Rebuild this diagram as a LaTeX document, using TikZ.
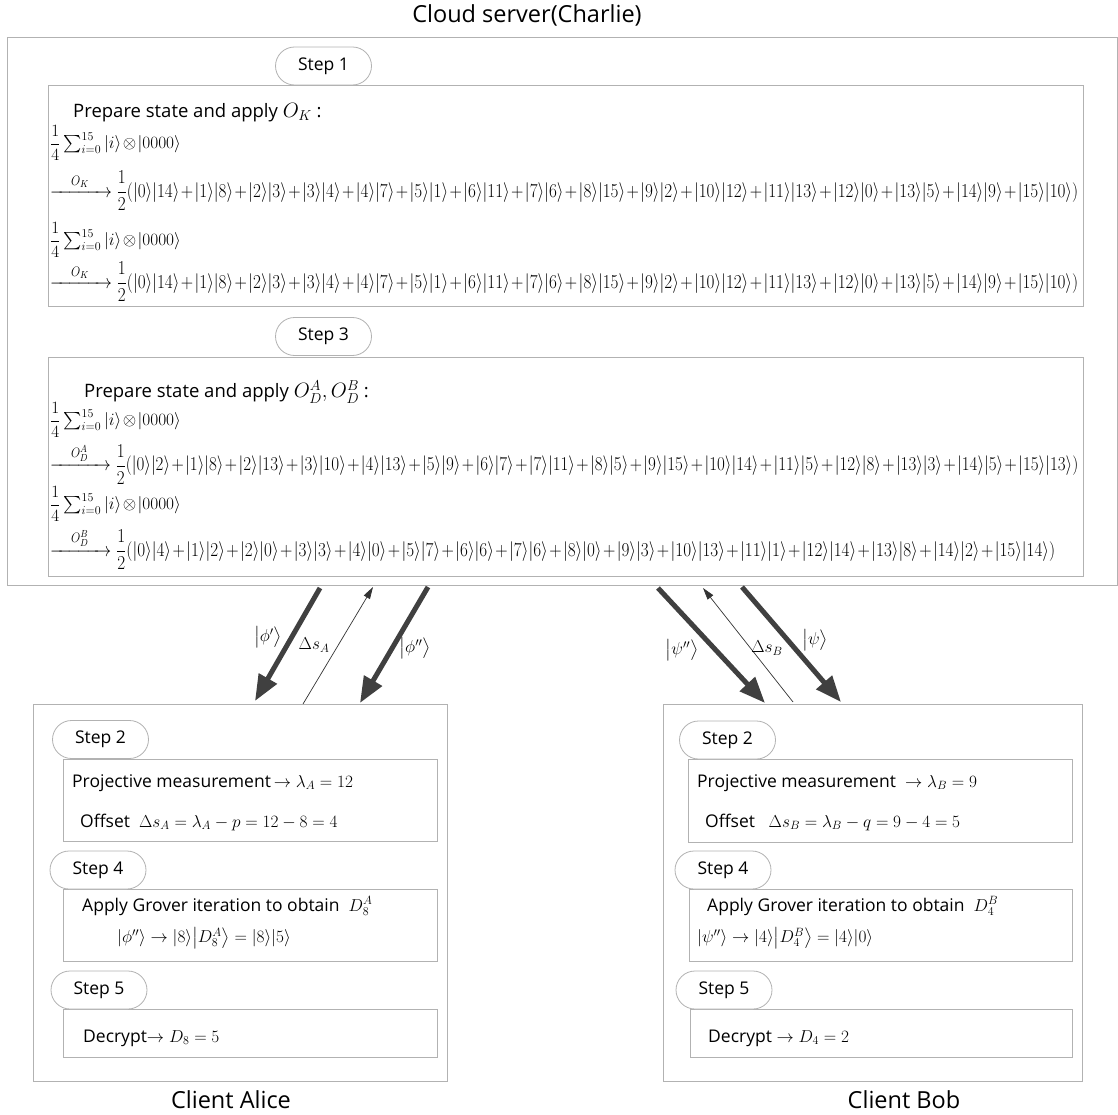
\documentclass[tikz,border=0pt]{standalone}
\usepackage{amsmath}
\usepackage{graphicx}
\usepackage[no-math]{fontspec}
\setmainfont{Open Sans}
\usetikzlibrary{arrows.meta}
\newcommand{\kt}[1]{|#1\rangle}
\newcommand{\pr}[2]{|#1\rangle|#2\rangle}
\newcommand{\tight}{\medmuskip=1.5mu\relax}
\newcommand{\eqline}[2]{\scalebox{1}[1.15]{\resizebox{#1}{!}{$\tight\displaystyle #2$}}}
\tikzset{
  boxline/.style={draw=gray!60, line width=0.9pt},
  stepoval/.style={draw=gray!60, fill=white, line width=0.8pt, rounded corners=19pt,
    minimum width=96pt, minimum height=38pt, inner sep=0pt, font=\fontsize{17.5}{20}\selectfont},
  txt/.style={anchor=west, inner sep=0pt, font=\fontsize{17.5}{20}\selectfont},
  sumtxt/.style={anchor=west, inner sep=0pt, font=\fontsize{18}{20}\selectfont},
  bigarrow/.style={line width=5pt, draw=black!75, -{Triangle[length=26pt,width=20pt]}},
  thinarrow/.style={line width=0.7pt, draw=black!80, -{Triangle[length=12pt,width=7pt]}},
  lbl/.style={inner sep=0pt, font=\fontsize{17}{20}\selectfont},
  headtxt/.style={font=\fontsize{23.5}{26}\selectfont},
}
\begin{document}
\begin{tikzpicture}[x=1pt,y=-1pt]
\useasboundingbox (0,0) rectangle (1118,1115);
% title
\node[headtxt] (title) at (527,15) {Cloud server(Charlie)};
% cloud box
\node[boxline, anchor=north west, minimum width=1110pt, minimum height=548pt, inner sep=0pt] (cloud) at (7,37) {};
% inner box 1
\node[boxline, anchor=north west, minimum width=1035pt, minimum height=221pt, inner sep=0pt] (b1) at (48,85) {};
\node[stepoval] (s1) at (323.5,66) {Step 1};
\node[txt, font=\fontsize{18.5}{20}\selectfont] (p1) at (73,113) {Prepare state and apply\ {\fontsize{22}{24}\selectfont$O_K$} :};
\node[sumtxt] (e1) at (50,143) {$\tight\dfrac{1}{4}\textstyle\sum_{i=0}^{15}\kt{i}\otimes\kt{0000}$};
\node[txt] (e2) at (50,191) {\eqline{1028pt}{\xrightarrow{\quad O_K\quad}\frac{1}{2}(\pr{0}{14}+\pr{1}{8}+\pr{2}{3}+\pr{3}{4}+\pr{4}{7}+\pr{5}{1}+\pr{6}{11}+\pr{7}{6}+\pr{8}{15}+\pr{9}{2}+\pr{10}{12}+\pr{11}{13}+\pr{12}{0}+\pr{13}{5}+\pr{14}{9}+\pr{15}{10})}};
\node[sumtxt] (e3) at (50,240) {$\tight\dfrac{1}{4}\textstyle\sum_{i=0}^{15}\kt{i}\otimes\kt{0000}$};
\node[txt] (e4) at (50,282) {\eqline{1028pt}{\xrightarrow{\quad O_K\quad}\frac{1}{2}(\pr{0}{14}+\pr{1}{8}+\pr{2}{3}+\pr{3}{4}+\pr{4}{7}+\pr{5}{1}+\pr{6}{11}+\pr{7}{6}+\pr{8}{15}+\pr{9}{2}+\pr{10}{12}+\pr{11}{13}+\pr{12}{0}+\pr{13}{5}+\pr{14}{9}+\pr{15}{10})}};
% inner box 2
\node[boxline, anchor=north west, minimum width=1035pt, minimum height=219pt, inner sep=0pt] (b2) at (48,357) {};
\node[stepoval] (s3) at (323.5,336.5) {Step 3};
\node[txt, font=\fontsize{18.5}{20}\selectfont] (p2) at (84,392) {Prepare state and apply\ {\fontsize{22}{24}\selectfont$O_D^A,O_D^B$} :};
\node[sumtxt] (f1) at (50,420) {$\tight\dfrac{1}{4}\textstyle\sum_{i=0}^{15}\kt{i}\otimes\kt{0000}$};
\node[txt] (f2) at (50,464) {\eqline{1028pt}{\xrightarrow{\quad O_D^A\quad}\frac{1}{2}(\pr{0}{2}+\pr{1}{8}+\pr{2}{13}+\pr{3}{10}+\pr{4}{13}+\pr{5}{9}+\pr{6}{7}+\pr{7}{11}+\pr{8}{5}+\pr{9}{15}+\pr{10}{14}+\pr{11}{5}+\pr{12}{8}+\pr{13}{3}+\pr{14}{5}+\pr{15}{13})}};
\node[sumtxt] (f3) at (50,504) {$\tight\dfrac{1}{4}\textstyle\sum_{i=0}^{15}\kt{i}\otimes\kt{0000}$};
\node[txt] (f4) at (50,549) {\eqline{1005pt}{\xrightarrow{\quad O_D^B\quad}\frac{1}{2}(\pr{0}{4}+\pr{1}{2}+\pr{2}{0}+\pr{3}{3}+\pr{4}{0}+\pr{5}{7}+\pr{6}{6}+\pr{7}{6}+\pr{8}{0}+\pr{9}{3}+\pr{10}{13}+\pr{11}{1}+\pr{12}{14}+\pr{13}{8}+\pr{14}{2}+\pr{15}{14})}};

% client boxes
\node[boxline, anchor=north west, minimum width=414pt, minimum height=377pt, inner sep=0pt] (alice) at (33,704) {};
\node[boxline, anchor=north west, minimum width=419pt, minimum height=377pt, inner sep=0pt] (bob) at (663,704) {};
\node[headtxt] (alicet) at (231,1100) {Client Alice};
\node[headtxt] (bobt) at (904,1100) {Client Bob};

% Alice inner boxes
\node[boxline, anchor=north west, minimum width=374pt, minimum height=82pt, inner sep=0pt] (a2) at (63,759) {};
\node[boxline, anchor=north west, minimum width=374pt, minimum height=72pt, inner sep=0pt] (a4) at (63,889) {};
\node[boxline, anchor=north west, minimum width=374pt, minimum height=48pt, inner sep=0pt] (a5) at (63,1009) {};
\node[stepoval] (as2) at (100.5,739.5) {Step 2};
\node[stepoval] (as4) at (98,870) {Step 4};
\node[stepoval] (as5) at (99,990) {Step 5};
\node[txt] (at1) at (72,783) {Projective measurement$\,\rightarrow\lambda_A=12$};
\node[txt] (at2) at (80,822) {Offset\ \ $\Delta s_A=\lambda_A-p=12-8=4$};
\node[txt] (at3) at (82,906) {Apply Grover iteration to obtain\ \ $D_8^A$};
\node[txt] (at4) at (117,938) {$\kt{\phi''}\rightarrow\kt{8}\big|D_8^A\big\rangle=\kt{8}\kt{5}$};
\node[txt] (at5) at (83,1038) {Decrypt$\rightarrow D_8=5$};

% Bob inner boxes
\node[boxline, anchor=north west, minimum width=384pt, minimum height=83pt, inner sep=0pt] (b2b) at (688,759) {};
\node[boxline, anchor=north west, minimum width=383pt, minimum height=72pt, inner sep=0pt] (b4b) at (689,889) {};
\node[boxline, anchor=north west, minimum width=382pt, minimum height=48pt, inner sep=0pt] (b5b) at (690,1009) {};
\node[stepoval] (bs2) at (727.5,740) {Step 2};
\node[stepoval] (bs4) at (723,870) {Step 4};
\node[stepoval] (bs5) at (724,990) {Step 5};
\node[txt] (bt1) at (697,783) {Projective measurement\ \ $\rightarrow\lambda_B=9$};
\node[txt] (bt2) at (705,822) {Offset\ \ \ $\Delta s_B=\lambda_B-q=9-4=5$};
\node[txt] (bt3) at (707,906) {Apply Grover iteration to obtain\ \ $D_4^B$};
\node[txt] (bt4) at (697,938) {$\kt{\psi''}\rightarrow\kt{4}\big|D_4^B\big\rangle=\kt{4}\kt{0}$};
\node[txt] (bt5) at (708,1038) {Decrypt $\rightarrow D_4=2$};

% arrow end points
\coordinate (a1s) at (320,588); \coordinate (a1e) at (255,701);
\coordinate (a2s) at (303,704); \coordinate (a2e) at (373,587);
\coordinate (a3s) at (428,587); \coordinate (a3e) at (360,703);
\coordinate (c1s) at (658,588); \coordinate (c1e) at (765,703);
\coordinate (c2s) at (793,702); \coordinate (c2e) at (703,588);
\coordinate (c3s) at (742,587); \coordinate (c3e) at (841,702);
\draw[bigarrow] (a1s) -- (a1e);
\draw[thinarrow] (a2s) -- (a2e);
\draw[bigarrow] (a3s) -- (a3e);
\draw[bigarrow] (c1s) -- (c1e);
\draw[thinarrow] (c2s) -- (c2e);
\draw[bigarrow] (c3s) -- (c3e);
\node[lbl] (l1) at (268,637) {$\big|\phi'\big\rangle$};
\node[lbl] (l2) at (314,645) {$\Delta s_A$};
\node[lbl] (l3) at (415,648) {$\big|\phi''\big\rangle$};
\node[lbl] (l4) at (682,650) {$\big|\psi''\big\rangle$};
\node[lbl] (l5) at (767,648) {$\Delta s_B$};
\node[lbl] (l6) at (815,640) {$\big|\psi\big\rangle$};
\end{tikzpicture}
\end{document}
